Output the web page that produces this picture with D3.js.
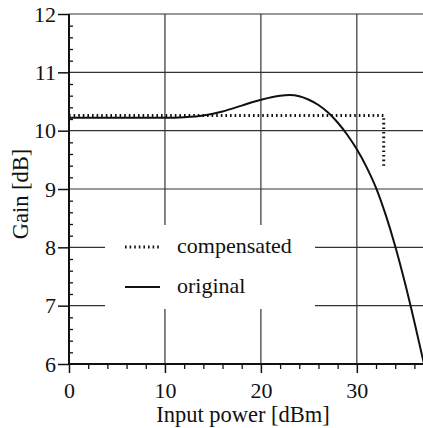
<!DOCTYPE html>
<html>
<head>
<meta charset="utf-8">
<script src="https://d3js.org/d3.v7.min.js"></script>
<style>
body { margin: 0; background: #fff; }
svg text { font-family: "Liberation Serif", "DejaVu Serif", serif !important; fill: #111; }
</style>
</head>
<body>
<svg id="chart" width="423" height="428"></svg>
<script>
// values
var xMajor = [0, 10, 20, 30];
var yMajor = [6, 7, 8, 9, 10, 11, 12];
var xGrid = [10, 20, 30];
var yGrid = [7, 8, 9, 10, 11, 12];

var origX = [0, 5, 10, 12, 14, 16, 18, 20, 22, 23, 24, 25, 26, 27, 28, 29, 30, 31, 32, 33, 34, 35, 36, 37];
var origY = [10.22, 10.22, 10.22, 10.23, 10.26, 10.33, 10.43, 10.53, 10.6, 10.61, 10.59, 10.53, 10.44, 10.31, 10.14, 9.93, 9.68, 9.38, 9.02, 8.56, 8.02, 7.40, 6.72, 6.0];

var compX = [0, 32.8, 32.8];
var compY = [10.26, 10.26, 9.35];

var svg = d3.select("#chart");

var x = d3.scaleLinear().domain([0, 37]).range([69, 424]);
var y = d3.scaleLinear().domain([6, 12]).range([364, 14]);

// grid
svg.append("g").selectAll("line").data(yGrid).enter().append("line")
  .attr("x1", x(0)).attr("x2", 423)
  .attr("y1", function(d) { return y(d); }).attr("y2", function(d) { return y(d); })
  .attr("stroke", "#333").attr("stroke-width", 1.2);
svg.append("g").selectAll("line").data(xGrid).enter().append("line")
  .attr("y1", y(6)).attr("y2", y(12))
  .attr("x1", function(d) { return x(d); }).attr("x2", function(d) { return x(d); })
  .attr("stroke", "#333").attr("stroke-width", 1.2);

// legend background hides the grid
svg.append("rect").attr("x", 105).attr("y", 225).attr("width", 210).attr("height", 84).attr("fill", "#fff");

// minor ticks
var xMinor = d3.range(0, 37, 2).filter(function(v) { return v % 10 != 0; });
var yMinor = d3.range(6, 12.001, 0.2).filter(function(v) { return Math.abs(v - Math.round(v)) > 0.01; });

svg.append("g").attr("transform", "translate(0," + y(6) + ")")
  .call(d3.axisBottom(x).tickValues(xMinor).tickSize(5).tickFormat(""))
  .call(function(g) { g.select(".domain").remove(); g.selectAll("line").attr("stroke", "#111").attr("stroke-width", 1.3); });
svg.append("g").attr("transform", "translate(" + x(0) + ",0)")
  .call(d3.axisRight(y).tickValues(yMinor).tickSize(4).tickFormat(""))
  .call(function(g) { g.select(".domain").remove(); g.selectAll("line").attr("stroke", "#111").attr("stroke-width", 1.3); });

// major ticks + labels
svg.append("g").attr("transform", "translate(0," + y(6) + ")")
  .call(d3.axisBottom(x).tickValues(xMajor).tickSize(9).tickPadding(9).tickFormat(d3.format("d")))
  .call(function(g) {
    g.select(".domain").remove();
    g.attr("font-family", null);
    g.selectAll("line").attr("stroke", "#111").attr("stroke-width", 1.5);
    g.selectAll("text").style("font-size", "22px");
  });
svg.append("g").attr("transform", "translate(" + x(0) + ",0)")
  .call(d3.axisLeft(y).tickValues(yMajor).tickSize(11).tickPadding(2).tickFormat(d3.format("d")))
  .call(function(g) {
    g.select(".domain").remove();
    g.attr("font-family", null);
    g.selectAll("line").attr("stroke", "#111").attr("stroke-width", 1.5);
    g.selectAll("text").style("font-size", "22px");
  });

// axis lines
svg.append("line").attr("x1", x(0)).attr("x2", x(0)).attr("y1", y(6) + 1).attr("y2", y(12))
  .attr("stroke", "#111").attr("stroke-width", 2);
svg.append("line").attr("x1", x(0)).attr("x2", 423).attr("y1", y(6)).attr("y2", y(6))
  .attr("stroke", "#111").attr("stroke-width", 2);

// curves
var orig = origX.map(function(v, i) { return [v, origY[i]]; });
var comp = compX.map(function(v, i) { return [v, compY[i]]; });

svg.append("path").datum(orig)
  .attr("d", d3.line().x(function(d) { return x(d[0]); }).y(function(d) { return y(d[1]); }).curve(d3.curveMonotoneX))
  .attr("fill", "none").attr("stroke", "#111").attr("stroke-width", 2);

svg.append("path").datum(comp)
  .attr("d", d3.line().x(function(d) { return x(d[0]); }).y(function(d) { return y(d[1]); }))
  .attr("fill", "none").attr("stroke", "#111").attr("stroke-width", 3).attr("stroke-dasharray", "1.6,3");

// legend
svg.append("line").attr("x1", 125).attr("x2", 160).attr("y1", 247).attr("y2", 247)
  .attr("stroke", "#111").attr("stroke-width", 3).attr("stroke-dasharray", "1.6,3");
svg.append("text").attr("x", 177).attr("y", 253).style("font-size", "22px").text("compensated");
svg.append("line").attr("x1", 125).attr("x2", 160).attr("y1", 287).attr("y2", 287)
  .attr("stroke", "#111").attr("stroke-width", 1.8);
svg.append("text").attr("x", 177).attr("y", 293).style("font-size", "22px").text("original");

// axis titles
svg.append("text").attr("x", 243).attr("y", 422).attr("text-anchor", "middle").style("font-size", "22.5px").text("Input power [dBm]");
svg.append("text").attr("transform", "translate(28,194) rotate(-90)").attr("text-anchor", "middle").style("font-size", "22.5px").text("Gain [dB]");
</script>
</body>
</html>
